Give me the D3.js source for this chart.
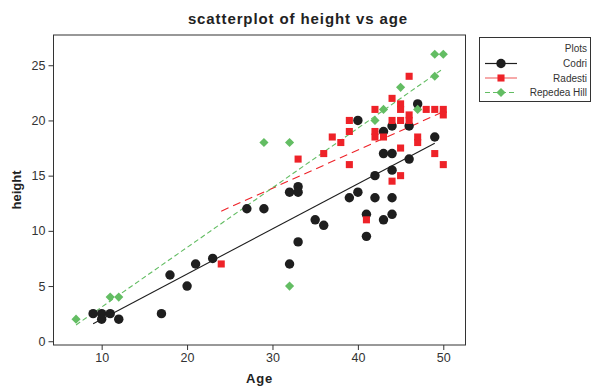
<!DOCTYPE html>
<html>
<head>
<meta charset="utf-8">
<script src="https://cdn.jsdelivr.net/npm/d3@7"></script>
<style>
  html, body { margin: 0; padding: 0; background: #fff; }
  svg { display: block; font-family: "Liberation Sans", Arial, sans-serif; }
</style>
</head>
<body>
<svg id="chart" width="594" height="386"></svg>
<script>
// Age (x) and height (y) observations per plot
const codriAge    = [9, 10, 10, 11, 12, 17, 18, 20, 21, 23, 27, 29, 32, 32, 33, 33, 33, 35, 36, 39, 40, 40, 41, 41, 42, 42, 43, 43, 43, 44, 44, 44, 44, 44, 46, 46, 47, 49];
const codriHeight = [2.5, 2.5, 2, 2.5, 2, 2.5, 6, 5, 7, 7.5, 12, 12, 13.5, 7, 14, 13.5, 9, 11, 10.5, 13, 13.5, 20, 11.5, 9.5, 15, 13, 19, 17, 11, 19.5, 17, 15.5, 13, 11.5, 19.5, 16.5, 21.5, 18.5];

const radestiAge    = [24, 33, 36, 37, 38, 39, 39, 39, 41, 42, 42, 42, 43, 44, 44, 44, 45, 45, 45, 45, 45, 46, 46, 46, 47, 47, 48, 49, 49, 50, 50, 50];
const radestiHeight = [7, 16.5, 17, 18.5, 18, 19, 20, 16, 11, 21, 19, 18.5, 18.5, 22, 20, 14.5, 21.5, 21, 20, 17.5, 15, 24, 20.5, 20, 18.5, 18, 21, 21, 17, 21, 20.5, 16];

const repedeaAge    = [7, 11, 12, 29, 32, 32, 42, 43, 45, 47, 49, 49, 50];
const repedeaHeight = [2, 4, 4, 18, 18, 5, 20, 21, 23, 21, 24, 26, 26];

const seriesNames = ["Codri", "Radesti", "Repedea Hill"];
const xTicks = [10, 20, 30, 40, 50];
const yTicks = [0, 5, 10, 15, 20, 25];

// Square diamond: a square symbol turned by 45 degrees
const rotatedSquare = {
  draw(context, size) {
    const r = Math.sqrt(size / 2);
    context.moveTo(0, -r);
    context.lineTo(r, 0);
    context.lineTo(0, r);
    context.lineTo(-r, 0);
    context.closePath();
  }
};

const styles = {
  "Codri":        { color: "#1e1e1e", symbol: d3.symbolCircle, size: 70, dash: null,  legendColor: "#1e1e1e" },
  "Radesti":      { color: "#ee2228", symbol: d3.symbolSquare, size: 50, dash: "8,5", legendColor: "#f07070" },
  "Repedea Hill": { color: "#63bd63", symbol: rotatedSquare,   size: 42, dash: "5,3", legendColor: "#63bd63" }
};

const series = [
  { name: "Codri",        x: codriAge,   y: codriHeight },
  { name: "Radesti",      x: radestiAge, y: radestiHeight },
  { name: "Repedea Hill", x: repedeaAge, y: repedeaHeight }
];

const svg = d3.select("#chart");
const frame = { left: 53.5, right: 465.5, top: 35, bottom: 345 };

const x = d3.scaleLinear().domain([4.36, 52.6]).range([frame.left, frame.right]);
const y = d3.scaleLinear().domain([-0.34, 27.74]).range([frame.bottom, frame.top]);

// Title
svg.append("text")
  .attr("x", 298).attr("y", 24)
  .attr("text-anchor", "middle")
  .attr("font-size", 15).attr("font-weight", "bold").attr("fill", "#222")
  .attr("letter-spacing", 0.9)
  .text("scatterplot of height vs age");

// Plot frame
svg.append("rect")
  .attr("x", frame.left).attr("y", frame.top)
  .attr("width", frame.right - frame.left).attr("height", frame.bottom - frame.top)
  .attr("fill", "none").attr("stroke", "#333").attr("stroke-width", 1);

// Axes
const xAxis = svg.append("g")
  .attr("transform", `translate(0,${frame.bottom})`)
  .call(d3.axisBottom(x).tickValues(xTicks).tickSize(5).tickPadding(3));
const yAxis = svg.append("g")
  .attr("transform", `translate(${frame.left},0)`)
  .call(d3.axisLeft(y).tickValues(yTicks).tickSize(5).tickPadding(3));
[xAxis, yAxis].forEach(g => {
  g.select(".domain").remove();
  g.selectAll(".tick line").attr("stroke", "#333");
  g.selectAll(".tick text").attr("fill", "#333").attr("font-size", 12.5)
    .attr("font-family", "\"Liberation Sans\", Arial, sans-serif");
});

// Axis titles
svg.append("text")
  .attr("x", (frame.left + frame.right) / 2).attr("y", 383)
  .attr("text-anchor", "middle")
  .attr("font-size", 13).attr("font-weight", "bold").attr("fill", "#222")
  .attr("letter-spacing", 0.8)
  .text("Age");
svg.append("text")
  .attr("transform", `translate(21,${(frame.top + frame.bottom) / 2}) rotate(-90)`)
  .attr("text-anchor", "middle")
  .attr("font-size", 13).attr("font-weight", "bold").attr("fill", "#222")
  .text("height");

// Least-squares fit lines
function fit(xs, ys) {
  const mx = d3.mean(xs), my = d3.mean(ys);
  let sxy = 0, sxx = 0;
  xs.forEach((v, i) => { sxy += (v - mx) * (ys[i] - my); sxx += (v - mx) * (v - mx); });
  const b = sxy / sxx, a = my - b * mx;
  const [x0, x1] = d3.extent(xs);
  return [[x0, a + b * x0], [x1, a + b * x1]];
}
const line = d3.line().x(d => x(d[0])).y(d => y(d[1]));
const fitLayer = svg.append("g");
series.forEach(s => {
  const st = styles[s.name];
  fitLayer.append("path")
    .attr("d", line(fit(s.x, s.y)))
    .attr("fill", "none")
    .attr("stroke", st.color)
    .attr("stroke-width", 1.1)
    .attr("stroke-dasharray", st.dash);
});

// Points
series.forEach(s => {
  const st = styles[s.name];
  const sym = d3.symbol().type(st.symbol).size(st.size);
  svg.append("g").selectAll("path")
    .data(s.x.map((v, i) => [v, s.y[i]]))
    .join("path")
    .attr("transform", d => `translate(${x(d[0])},${y(d[1])})`)
    .attr("d", sym)
    .attr("fill", st.color);
});

// Legend
const legend = svg.append("g");
legend.append("rect")
  .attr("x", 479.5).attr("y", 37.5).attr("width", 111).attr("height", 64)
  .attr("fill", "#fff").attr("stroke", "#333").attr("stroke-width", 1);
legend.append("text")
  .attr("x", 587).attr("y", 52)
  .attr("text-anchor", "end").attr("font-size", 10).attr("fill", "#333")
  .text("Plots");
seriesNames.forEach((name, i) => {
  const st = styles[name];
  const cy = 63.5 + i * 14.5;
  legend.append("line")
    .attr("x1", 485).attr("x2", 517).attr("y1", cy).attr("y2", cy)
    .attr("stroke", st.legendColor).attr("stroke-width", 1.2)
    .attr("stroke-dasharray", name === "Repedea Hill" ? "5,3" : null);
  legend.append("path")
    .attr("transform", `translate(501,${cy})`)
    .attr("d", d3.symbol().type(st.symbol).size(st.size)())
    .attr("fill", st.color);
  legend.append("text")
    .attr("x", 587).attr("y", cy + 3.5)
    .attr("text-anchor", "end").attr("font-size", 10).attr("fill", "#333")
    .text(name);
});
</script>
</body>
</html>
